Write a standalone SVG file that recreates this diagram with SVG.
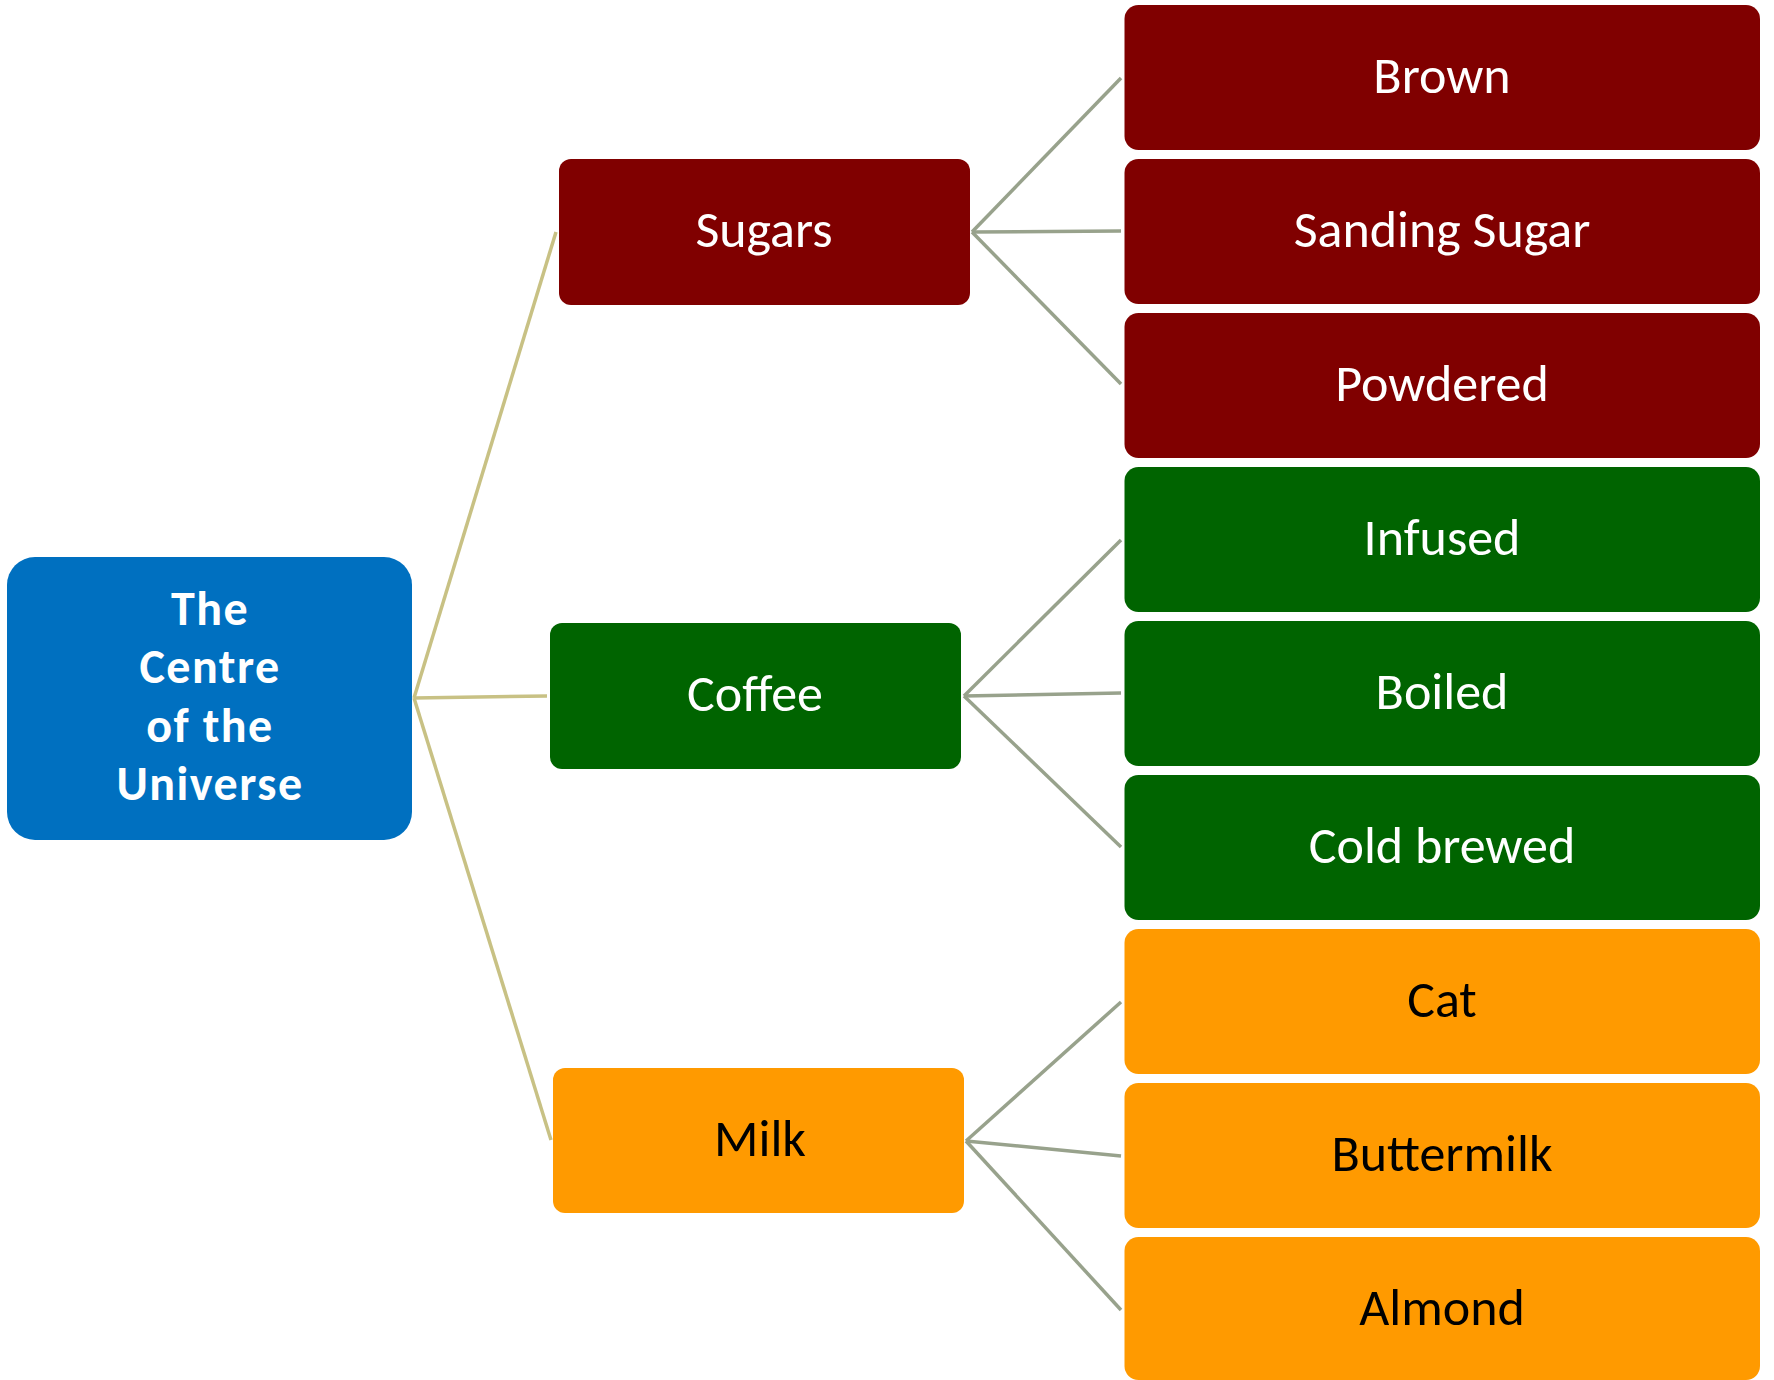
<svg xmlns="http://www.w3.org/2000/svg" width="1774" height="1380" viewBox="0 0 1774 1380">
<style>
text{font-family:Carlito,Calibri,Lato,"Liberation Sans",sans-serif;text-anchor:middle}
.root{fill:#0070C0}
.red{fill:#800000}
.green{fill:#006400}
.orange{fill:#FF9A00}
.lt{fill:#FFFFFF;font-size:52px}
.dt{fill:#000000;font-size:52px}
.rt{fill:#FFFFFF;font-size:48px;font-weight:bold;letter-spacing:1.5px}
.c1{stroke:#C8C184;stroke-width:3.5;fill:none}
.c2{stroke:#98A28C;stroke-width:3.5;fill:none}
</style>
<rect width="1774" height="1380" fill="#FFFFFF"/>
<g id="connectors">
<line class="c1" x1="414" y1="698" x2="556" y2="232"/>
<line class="c1" x1="414" y1="698" x2="547" y2="696"/>
<line class="c1" x1="414" y1="698" x2="551" y2="1140"/>
<line class="c2" x1="972" y1="232" x2="1121" y2="78"/>
<line class="c2" x1="972" y1="232" x2="1121" y2="231"/>
<line class="c2" x1="972" y1="232" x2="1121" y2="384"/>
<line class="c2" x1="964" y1="696" x2="1121" y2="540"/>
<line class="c2" x1="964" y1="696" x2="1121" y2="693"/>
<line class="c2" x1="964" y1="696" x2="1121" y2="847"/>
<line class="c2" x1="966" y1="1141" x2="1121" y2="1002"/>
<line class="c2" x1="966" y1="1141" x2="1121" y2="1156"/>
<line class="c2" x1="966" y1="1141" x2="1121" y2="1310"/>
</g>
<g id="root">
<rect class="root" x="7" y="557" width="405" height="283" rx="28"/>
<text class="rt" x="210" y="625">The</text>
<text class="rt" x="210" y="683">Centre</text>
<text class="rt" x="210" y="742">of the</text>
<text class="rt" x="210" y="800">Universe</text>
</g>
<g id="sugars">
<rect class="red" x="559" y="159" width="411" height="146" rx="12"/>
<text class="lt" x="764" y="247">Sugars</text>
</g>
<g id="coffee">
<rect class="green" x="550" y="623" width="411" height="146" rx="12"/>
<text class="lt" x="755" y="711">Coffee</text>
</g>
<g id="milk">
<rect class="orange" x="553" y="1068" width="411" height="145" rx="12"/>
<text class="dt" x="760" y="1156">Milk</text>
</g>
<g id="brown">
<rect class="red" x="1124.5" y="5" width="635.5" height="145" rx="14"/>
<text class="lt" x="1442" y="93">Brown</text>
</g>
<g id="sanding-sugar">
<rect class="red" x="1124.5" y="159" width="635.5" height="145" rx="14"/>
<text class="lt" x="1442" y="247">Sanding Sugar</text>
</g>
<g id="powdered">
<rect class="red" x="1124.5" y="313" width="635.5" height="145" rx="14"/>
<text class="lt" x="1442" y="401">Powdered</text>
</g>
<g id="infused">
<rect class="green" x="1124.5" y="467" width="635.5" height="145" rx="14"/>
<text class="lt" x="1442" y="555">Infused</text>
</g>
<g id="boiled">
<rect class="green" x="1124.5" y="621" width="635.5" height="145" rx="14"/>
<text class="lt" x="1442" y="709">Boiled</text>
</g>
<g id="cold-brewed">
<rect class="green" x="1124.5" y="775" width="635.5" height="145" rx="14"/>
<text class="lt" x="1442" y="863">Cold brewed</text>
</g>
<g id="cat">
<rect class="orange" x="1124.5" y="929" width="635.5" height="145" rx="14"/>
<text class="dt" x="1442" y="1017">Cat</text>
</g>
<g id="buttermilk">
<rect class="orange" x="1124.5" y="1083" width="635.5" height="145" rx="14"/>
<text class="dt" x="1442" y="1171">Buttermilk</text>
</g>
<g id="almond">
<rect class="orange" x="1124.5" y="1237" width="635.5" height="143" rx="14"/>
<text class="dt" x="1442" y="1325">Almond</text>
</g>
</svg>
